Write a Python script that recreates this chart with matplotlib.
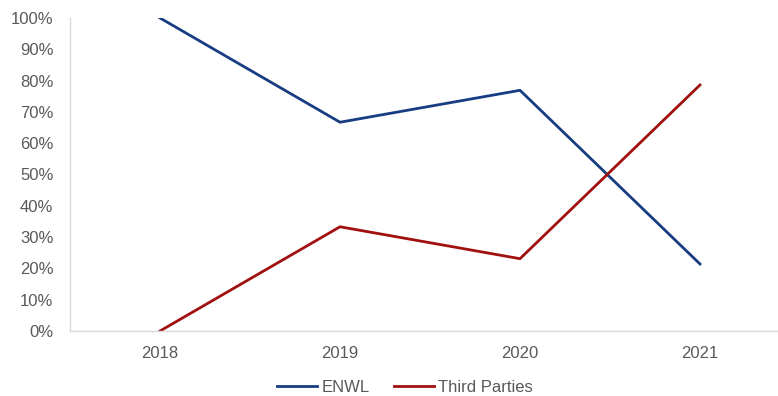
import matplotlib.pyplot as plt
from matplotlib.ticker import PercentFormatter

years = ["2018", "2019", "2020", "2021"]
enwl = [100.0, 66.7, 76.9, 21.4]
third_parties = [0.0, 33.3, 23.1, 78.6]

plt.rcParams['font.family'] = ['Liberation Sans', 'DejaVu Sans']

fig = plt.figure(figsize=(7.78, 3.96), dpi=100)
# plot area runs a little past the right edge, as in the original export
ax = fig.add_axes([70 / 778, 65 / 396, 720 / 778, 313 / 396])

x = range(len(years))
ax.plot(x, enwl, color='#173C82', lw=2, label='ENWL')
ax.plot(x, third_parties, color='#A0100F', lw=2, label='Third Parties')

ax.set_xlim(-0.5, 3.5)
ax.set_ylim(0, 100)
ax.set_xticks(list(x))
ax.set_xticklabels(years)
ax.set_yticks(range(0, 101, 10))
ax.yaxis.set_major_formatter(PercentFormatter(decimals=0))

for side in ['top', 'right']:
    ax.spines[side].set_visible(False)
for side in ['left', 'bottom']:
    ax.spines[side].set_color('#D9D9D9')
    ax.spines[side].set_linewidth(1)

ax.tick_params(axis='both', length=0, labelsize=12, colors='#595959')
ax.tick_params(axis='y', pad=12)
ax.tick_params(axis='x', pad=11)

fig.legend(loc='center', bbox_to_anchor=(405 / 778, 1 - 387 / 396), ncol=2,
           frameon=False, fontsize=12, labelcolor='#595959',
           handlelength=2.4, columnspacing=1.45, handletextpad=0.25)

fig.savefig('out.png', dpi=100)
